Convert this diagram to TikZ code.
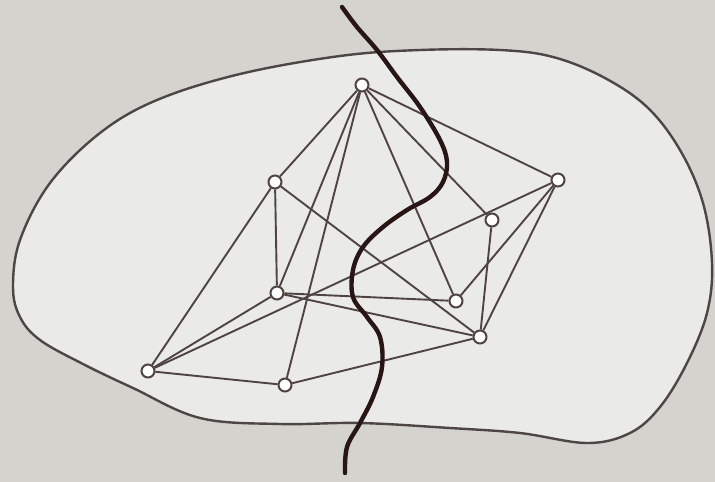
\documentclass[tikz,border=0pt]{standalone}
\definecolor{bgc}{RGB}{212,211,206}
\definecolor{inc}{RGB}{234,234,232}
\definecolor{edgec}{RGB}{80,68,66}
\definecolor{blobc}{RGB}{78,70,70}
\definecolor{cutc}{RGB}{40,22,20}
\tikzset{
  vtx/.style={circle,draw=edgec,fill=white,line width=2pt,minimum size=13pt,inner sep=0pt},
  edge/.style={draw=edgec,line width=1.9pt},
  blob/.style={draw=blobc,fill=inc,line width=2.4pt},
  cutline/.style={draw=cutc,line width=4.4pt,line cap=round,line join=round}
}
\begin{document}
\begin{tikzpicture}[x=1pt,y=-1pt]
\fill[bgc] (0,0) rectangle (715,482);
\useasboundingbox (0,0) rectangle (715,482);
% outer closed curve
\path[blob] plot[smooth cycle,tension=0.6] coordinates {
 (157,100) (100,133) (50,183) (20,240) (13,287) (20,317) (40,340) (83,364)
 (133,388) (200,418) (280,424) (360,423) (450,428) (520,433) (587,443)
 (630,433) (660,407) (687,363) (707,313) (712,263) (703,203) (680,150)
 (647,107) (603,77) (553,57) (500,50) (420,50) (340,56) (240,74)};
% vertices
\node[vtx] (A) at (362,85) {};
\node[vtx] (B) at (275,182) {};
\node[vtx] (C) at (558,180) {};
\node[vtx] (D) at (492,220) {};
\node[vtx] (E) at (277,293) {};
\node[vtx] (F) at (456,301) {};
\node[vtx] (G) at (480,337) {};
\node[vtx] (H) at (148,371) {};
\node[vtx] (I) at (285,385) {};
% edges
\foreach \u/\v in {A/B,A/E,A/I,A/F,A/D,A/C,B/E,B/H,B/G,C/H,C/F,C/G,D/G,E/H,E/F,E/G,G/I,H/I}
  \path[edge] (\u) -- (\v);
% thick cutting line
\path[cutline] plot[smooth,tension=0.6] coordinates {
 (342,7) (357,27) (377,50) (397,77) (420,107) (440,140) (447,162) (443,182)
 (430,197) (407,210) (383,227) (363,247) (353,270) (353,297) (367,317)
 (380,337) (382,367) (373,397) (360,423) (347,447) (345,473)};
\end{tikzpicture}
\end{document}
